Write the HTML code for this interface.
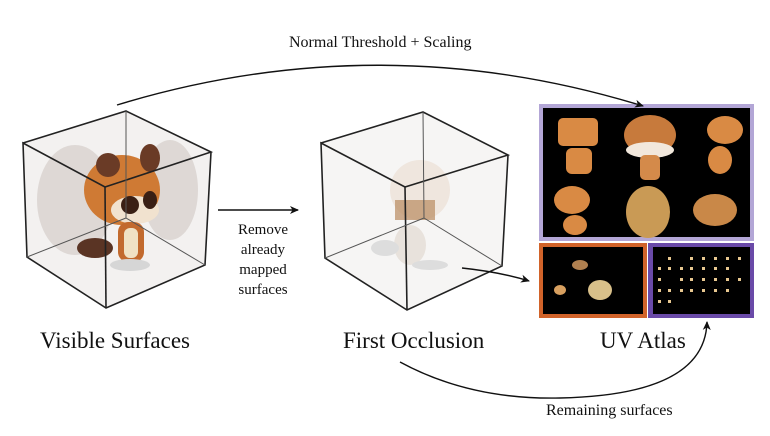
<!DOCTYPE html>
<html><head><style>
html,body{margin:0;padding:0;background:#fff;}
body{width:770px;height:436px;position:relative;overflow:hidden;font-family:"Liberation Serif",serif;}
.t{position:absolute;color:#111;white-space:nowrap;}
</style></head><body>
<svg width="770" height="436" style="position:absolute;left:0;top:0">
<defs>
<marker id="ah" markerWidth="10" markerHeight="10" refX="8" refY="5" orient="auto" markerUnits="userSpaceOnUse">
<path d="M0,1 L9,5 L0,9 L2.5,5 Z" fill="#111"/></marker>
</defs>
<g>
<polygon points="23,143 126,111 211,152 205,265 106,308 27,257" fill="#f3f1f0"/>
<ellipse cx="75" cy="200" rx="38" ry="55" fill="#d8d2ce" opacity=".8"/>
<ellipse cx="170" cy="190" rx="28" ry="50" fill="#d8d2ce" opacity=".8"/>
<ellipse cx="122" cy="190" rx="38" ry="35" fill="#cf7a34"/>
<ellipse cx="108" cy="165" rx="12" ry="12" fill="#6a3b26"/>
<ellipse cx="150" cy="158" rx="10" ry="14" fill="#6a3b26"/>
<ellipse cx="135" cy="210" rx="24" ry="14" fill="#f1e2cf"/>
<ellipse cx="130" cy="205" rx="9" ry="9" fill="#3a1f14"/>
<ellipse cx="150" cy="200" rx="7" ry="9" fill="#3a1f14"/>
<rect x="118" y="222" width="26" height="40" rx="10" fill="#c26a2e"/>
<rect x="124" y="228" width="14" height="30" rx="6" fill="#f0e2c4"/>
<ellipse cx="95" cy="248" rx="18" ry="10" fill="#5a3424"/>
<ellipse cx="130" cy="265" rx="20" ry="6" fill="#d6d6d6"/>
<g fill="none" stroke="#222" stroke-width="1.6">
<polyline points="23,143 126,111 211,152 105,187 23,143 27,257 106,308 205,265 211,152"/>
<line x1="105" y1="187" x2="106" y2="308"/>
<g stroke="#555" stroke-width="1"><polyline points="126,111 126,218 27,257"/><line x1="126" y1="218" x2="205" y2="265"/></g>
</g>
</g>
<g>
<polygon points="321,143 423,112 508,155 502,266 407,310 325,258" fill="#f6f5f4"/>
<ellipse cx="420" cy="190" rx="30" ry="30" fill="#efe6de"/>
<rect x="395" y="200" width="40" height="20" fill="#b98a60" opacity=".7"/>
<ellipse cx="410" cy="245" rx="16" ry="20" fill="#e8e2dc"/>
<ellipse cx="385" cy="248" rx="14" ry="8" fill="#ddd"/>
<ellipse cx="430" cy="265" rx="18" ry="5" fill="#ddd"/>
<g fill="none" stroke="#222" stroke-width="1.6">
<polyline points="321,143 423,112 508,155 405,187 321,143 325,258 407,310 502,266 508,155"/>
<line x1="405" y1="187" x2="407" y2="310"/>
<g stroke="#555" stroke-width="1"><polyline points="423,112 424,218 325,258"/><line x1="424" y1="218" x2="502" y2="266"/></g>
</g>
</g>
<rect x="539" y="104" width="215" height="137" fill="#b3a6d6"/>
<rect x="543" y="108" width="207" height="129" fill="#000"/>
<rect x="539" y="243" width="108" height="75" fill="#d1632a"/>
<rect x="543" y="247" width="100" height="67" fill="#000"/>
<rect x="648" y="243" width="106" height="75" fill="#6a4aa8"/>
<rect x="653" y="247" width="97" height="67" fill="#000"/>
<g fill="#d98a44">
<rect x="558" y="118" width="40" height="28" rx="5"/>
<rect x="566" y="148" width="26" height="26" rx="6"/>
<ellipse cx="650" cy="135" rx="26" ry="20" fill="#c77a3c"/>
<ellipse cx="650" cy="150" rx="24" ry="8" fill="#f2e8dc"/>
<rect x="640" y="155" width="20" height="25" rx="5" fill="#d48a4a"/>
<ellipse cx="725" cy="130" rx="18" ry="14"/>
<ellipse cx="720" cy="160" rx="12" ry="14"/>
<ellipse cx="572" cy="200" rx="18" ry="14"/>
<ellipse cx="575" cy="225" rx="12" ry="10"/>
<ellipse cx="648" cy="212" rx="22" ry="26" fill="#c99a55"/>
<ellipse cx="715" cy="210" rx="22" ry="16" fill="#c98848"/>
<ellipse cx="600" cy="290" rx="12" ry="10" fill="#d8c08a"/>
<ellipse cx="580" cy="265" rx="8" ry="5" fill="#b08050"/>
<ellipse cx="560" cy="290" rx="6" ry="5" fill="#d8a060"/>
</g>
<g fill="#e8c890">
<rect x="668" y="257" width="3" height="3"/><rect x="690" y="257" width="3" height="3"/><rect x="702" y="257" width="3" height="3"/><rect x="714" y="257" width="3" height="3"/><rect x="726" y="257" width="3" height="3"/><rect x="738" y="257" width="3" height="3"/>
<rect x="658" y="267" width="3" height="3"/><rect x="668" y="267" width="3" height="3"/><rect x="680" y="267" width="3" height="3"/><rect x="690" y="267" width="3" height="3"/><rect x="702" y="267" width="3" height="3"/><rect x="714" y="267" width="3" height="3"/><rect x="726" y="267" width="3" height="3"/>
<rect x="658" y="278" width="3" height="3"/><rect x="680" y="278" width="3" height="3"/><rect x="690" y="278" width="3" height="3"/><rect x="702" y="278" width="3" height="3"/><rect x="714" y="278" width="3" height="3"/><rect x="726" y="278" width="3" height="3"/><rect x="738" y="278" width="3" height="3"/>
<rect x="658" y="289" width="3" height="3"/><rect x="668" y="289" width="3" height="3"/><rect x="680" y="289" width="3" height="3"/><rect x="690" y="289" width="3" height="3"/><rect x="702" y="289" width="3" height="3"/><rect x="714" y="289" width="3" height="3"/><rect x="726" y="289" width="3" height="3"/>
<rect x="658" y="300" width="3" height="3"/><rect x="668" y="300" width="3" height="3"/>
</g>
<g fill="none" stroke="#111" stroke-width="1.4">
<path d="M117,105 Q380,25 643,106" marker-end="url(#ah)"/>
<line x1="218" y1="210" x2="298" y2="210" marker-end="url(#ah)"/>
<path d="M462,268 Q500,272 529,281" marker-end="url(#ah)"/>
<path d="M400,362 Q470,400 560,398 Q705,395 707,322" marker-end="url(#ah)"/>
</g>
</svg>
<div class="t" style="left:289px;top:34px;font-size:16px;">Normal Threshold + Scaling</div>
<div class="t" style="left:232px;top:220px;font-size:15px;text-align:center;line-height:20px;width:62px;white-space:normal">Remove already mapped surfaces</div>
<div class="t" style="left:40px;top:328px;font-size:23px;">Visible Surfaces</div>
<div class="t" style="left:343px;top:328px;font-size:23px;">First Occlusion</div>
<div class="t" style="left:600px;top:328px;font-size:23px;">UV Atlas</div>
<div class="t" style="left:546px;top:402px;font-size:16px;">Remaining surfaces</div>
</body></html>
